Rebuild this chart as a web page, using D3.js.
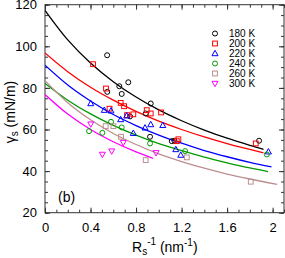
<!DOCTYPE html>
<html>
<head>
<meta charset="utf-8">
<script src="https://cdn.jsdelivr.net/npm/d3@7"></script>
<style>
  body { margin: 0; background: #fff; }
  text { font-family: "Liberation Sans", Arial, sans-serif; fill: #000; }
  .tick_label { font-size: 13px; }
  .legend_text { font-size: 10px; }
</style>
</head>
<body>
<div id="chart"></div>
<script>
// legend names and colours
var series = ["180 K", "200 K", "220 K", "240 K", "260 K", "300 K"];
var colors = ["#000000", "#ff0000", "#0000ff", "#009a00", "#bc8f8f", "#ff00ff"];
var shapes = ["circle", "square", "triangle", "circle", "square", "triangledown"];

// measured points [Rs^-1, gamma_s]
var pts180 = [[0.546,95.7],[0.547,78.1],[0.653,80.8],[0.674,77.1],[0.732,82.7],[0.747,66.3],
              [0.885,67.7],[0.929,72.5],[0.923,56.5],[1.114,54.4],[1.137,54.6],[1.881,54.6]];
var pts200 = [[0.422,91.4],[0.536,79.7],[0.567,70.0],[0.665,72.8],[0.695,71.2],[0.721,66.9],
              [0.776,67.3],[0.894,69.3],[0.929,67.7],[1.020,68.2],[1.158,54.4],[1.172,55.3],[1.852,53.3]];
var pts220 = [[0.402,72.5],[0.521,69.3],[0.580,69.0],[0.665,64.8],[0.718,66.6],[0.776,58.2],
              [0.879,60.8],[0.929,62.4],[1.035,62.0],[1.149,50.4],[1.193,47.7],[1.963,49.3]];
var pts240 = [[0.387,59.2],[0.504,58.4],[0.580,63.7],[0.674,61.0],[0.923,53.3],[1.231,49.6],[1.949,48.0]];
var pts260 = [[0.533,61.6],[0.601,61.6],[0.668,56.5],[0.885,45.3],[1.246,46.6],[1.808,34.9]];
var pts300 = [[0.402,62.6],[0.504,48.0],[0.586,49.6],[0.688,53.7],[0.976,48.8]];

// fitted lines
var fitX = [0, 0.2, 0.4, 0.6, 0.8, 1.0, 1.2, 1.4, 1.6, 1.8];
var fit180 = [117.3, 103.1, 92.0, 83.0, 75.6, 69.4, 64.2, 59.7, 55.8, 52.4];
var fit200 = [96.8, 87.8, 80.3, 74.1, 68.7, 64.0, 60.0, 56.4, 53.2, 50.4];
var fit220 = [90.9, 81.4, 73.7, 67.2, 61.9, 57.3, 53.4, 49.9, 46.9, 44.2];
var fit240 = [82.1, 74.1, 67.5, 62.0, 57.3, 53.2, 49.8, 46.7, 44.0, 41.5];
var fit260 = [83.5, 72.9, 64.7, 58.1, 52.8, 48.3, 44.6, 41.4, 38.6, 36.2];
var fit300 = [76.8, 67.4, 60.0, 54.1, 49.2];
// last point of each fit line
var fitEnd = [[1.92,50.5],[1.92,48.8],[1.99,42.0],[1.96,39.8],[2.04,33.6],[0.95,46.1]];

var xTicks = [0, 0.4, 0.8, 1.2, 1.6, 2.0];
var yTicks = [20, 40, 60, 80, 100, 120];

var w = 285, h = 258;
var padL = 45, padR = 284, padT = 4.7, padB = 212.7;

var svg = d3.select("#chart").append("svg").attr("width", w).attr("height", h);

var x = d3.scaleLinear().domain([0, 2.1]).range([padL, padR]);
var y = d3.scaleLinear().domain([20, 120]).range([padB, padT]);

var minorX = d3.range(0, 2.101, 0.1);
var minorY = d3.range(20, 120.01, 5);

function fmt(d) { return d === 0 ? "0" : (d === 2 ? "2" : d3.format(".1f")(d)); }
function clean(g) { g.select(".domain").remove(); g.selectAll("line").attr("stroke", "#333"); }

// ticks inward on all four sides
svg.append("g").attr("transform", "translate(0," + padB + ")")
  .call(d3.axisBottom(x).tickValues(minorX).tickSize(-3).tickFormat("")).call(clean);
svg.append("g").attr("transform", "translate(0," + padB + ")")
  .call(d3.axisBottom(x).tickValues(xTicks).tickSize(-5).tickPadding(10).tickFormat(fmt))
  .call(function(g) {
    clean(g);
    g.selectAll("text").attr("class", "tick_label").attr("font-size", null).attr("font-family", null);
  });
svg.append("g").attr("transform", "translate(0," + padT + ")")
  .call(d3.axisTop(x).tickValues(minorX).tickSize(-3).tickFormat("")).call(clean);
svg.append("g").attr("transform", "translate(0," + padT + ")")
  .call(d3.axisTop(x).tickValues(xTicks).tickSize(-5).tickFormat("")).call(clean);

svg.append("g").attr("transform", "translate(" + padL + ",0)")
  .call(d3.axisLeft(y).tickValues(minorY).tickSize(-3).tickFormat("")).call(clean);
svg.append("g").attr("transform", "translate(" + padL + ",0)")
  .call(d3.axisLeft(y).tickValues(yTicks).tickSize(-5).tickPadding(8).tickFormat(d3.format("d")))
  .call(function(g) {
    clean(g);
    g.selectAll("text").attr("class", "tick_label").attr("font-size", null).attr("font-family", null);
  });
svg.append("g").attr("transform", "translate(" + padR + ",0)")
  .call(d3.axisRight(y).tickValues(minorY).tickSize(-3).tickFormat("")).call(clean);
svg.append("g").attr("transform", "translate(" + padR + ",0)")
  .call(d3.axisRight(y).tickValues(yTicks).tickSize(-5).tickFormat("")).call(clean);

svg.append("rect").attr("x", padL).attr("y", padT)
  .attr("width", padR - padL).attr("height", padB - padT)
  .attr("fill", "none").attr("stroke", "#333").attr("stroke-width", 1);

// fit curves
var fits = [fit180, fit200, fit220, fit240, fit260, fit300];
var line = d3.line().x(function(d) { return x(d[0]); }).y(function(d) { return y(d[1]); })
  .curve(d3.curveCatmullRom);
svg.append("clipPath").attr("id", "plotclip").append("rect")
  .attr("x", padL).attr("y", padT).attr("width", padR - padL).attr("height", padB - padT);
fits.forEach(function(f, i) {
  var d = f.map(function(v, j) { return [fitX[j], v]; });
  d.push(fitEnd[i]);
  svg.append("path").attr("d", line(d)).attr("fill", "none")
    .attr("stroke", colors[i]).attr("stroke-width", 1.3).attr("clip-path", "url(#plotclip)");
});

// markers
function marker(g, shape, cx, cy, col) {
  if (shape == "circle") {
    g.append("circle").attr("cx", cx).attr("cy", cy).attr("r", 2.5)
      .attr("fill", "none").attr("stroke", col).attr("stroke-width", 1);
  } else if (shape == "square") {
    g.append("rect").attr("x", cx - 2.4).attr("y", cy - 2.4).attr("width", 4.8).attr("height", 4.8)
      .attr("fill", "none").attr("stroke", col).attr("stroke-width", 1);
  } else if (shape == "triangle") {
    g.append("path").attr("d", "M" + cx + "," + (cy - 3.2) + "L" + (cx + 3) + "," + (cy + 2.2) + "L" + (cx - 3) + "," + (cy + 2.2) + "Z")
      .attr("fill", "none").attr("stroke", col).attr("stroke-width", 1);
  } else {
    g.append("path").attr("d", "M" + cx + "," + (cy + 3.2) + "L" + (cx + 3) + "," + (cy - 2.2) + "L" + (cx - 3) + "," + (cy - 2.2) + "Z")
      .attr("fill", "none").attr("stroke", col).attr("stroke-width", 1);
  }
}

var allPts = [pts180, pts200, pts220, pts240, pts260, pts300];
allPts.forEach(function(p, i) {
  var g = svg.append("g");
  p.forEach(function(d) { marker(g, shapes[i], x(d[0]), y(d[1]), colors[i]); });
});

// legend
series.forEach(function(s, i) {
  var ly = 33.5 + i * 10;
  var g = svg.append("g");
  marker(g, shapes[i], 215, ly, colors[i]);
  svg.append("text").attr("class", "legend_text").attr("x", 229).attr("y", ly + 3.6).text(s);
});

// axis titles
var xt = svg.append("text").attr("x", 132).attr("y", 252).attr("font-size", 14);
xt.append("tspan").text("R");
xt.append("tspan").attr("font-size", 10).attr("dy", 3).text("s");
xt.append("tspan").attr("font-size", 10).attr("dy", -10).text("-1");
xt.append("tspan").attr("dy", 7).text(" (nm");
xt.append("tspan").attr("font-size", 10).attr("dy", -6).text("-1");
xt.append("tspan").attr("dy", 6).text(")");

var yt = svg.append("text").attr("transform", "translate(15,112) rotate(-90)")
  .attr("text-anchor", "middle").attr("font-size", 14);
yt.append("tspan").text("γ");
yt.append("tspan").attr("font-size", 10).attr("dy", 3).text("s");
yt.append("tspan").attr("dy", -3).text(" (mN/m)");

svg.append("text").attr("x", 58).attr("y", 202).attr("font-size", 14).text("(b)");
</script>
</body>
</html>
